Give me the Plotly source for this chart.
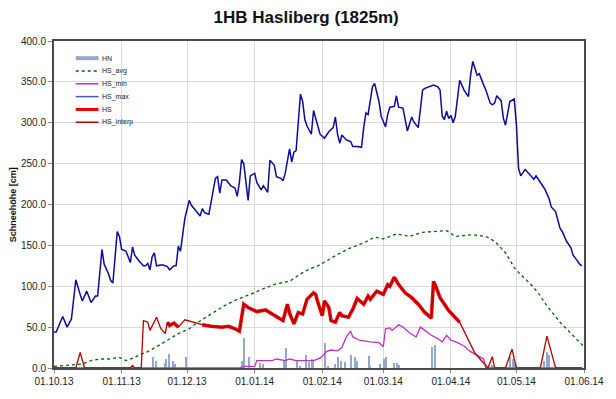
import pandas as pd
import plotly.graph_objects as go

SEASON_START = "2013-10-01"

# HS_max: day offset since 2013-10-01, value [cm]
hs_max_day = [0, 1, 4, 6, 8, 10, 12, 13, 15, 17, 19, 20, 22, 23, 25, 26, 27, 29, 30, 31,
              33, 35, 36, 37, 39, 41, 42, 43, 44, 45, 46, 47, 49, 50, 52, 53, 55, 56, 57, 58,
              60, 62, 63, 65, 67, 68, 69, 71, 74, 75, 76, 77, 79, 81, 83, 84, 85, 86, 87, 89,
              90, 92, 93, 95, 96, 98, 99, 101, 102, 104, 105, 106, 108, 109, 110, 111, 112, 113, 114, 115,
              116, 118, 119, 121, 122, 124, 126, 128, 129, 130, 131, 132, 134, 136, 137, 139, 141, 142, 143, 144,
              146, 147, 149, 150, 152, 153, 154, 156, 157, 158, 160, 161, 162, 164, 165, 167, 169, 170, 172, 174,
              176, 177, 178, 179, 180, 181, 182, 183, 184, 185, 186, 188, 190, 191, 192, 194, 195, 197, 198, 200,
              201, 202, 203, 205, 206, 207, 209, 211, 212, 213, 214, 216, 218, 220, 221, 223, 225, 227, 228, 230,
              232, 233, 235, 237, 238, 240, 241, 242]
hs_max = [44, 44, 63, 50, 60, 108, 90, 82, 94, 80, 88, 88, 145, 127, 115, 107, 104, 167, 161, 145,
          143, 129, 148, 138, 131, 125, 125, 128, 120, 136, 141, 125, 126, 126, 124, 120, 125, 125, 149, 143,
          183, 205, 199, 192, 186, 195, 190, 188, 232, 234, 214, 230, 230, 223, 220, 210, 227, 255, 250, 205,
          235, 238, 227, 218, 223, 215, 254, 248, 234, 232, 229, 238, 268, 252, 264, 266, 302, 335, 326, 304,
          296, 286, 315, 297, 286, 281, 289, 294, 307, 286, 275, 285, 279, 277, 271, 271, 270, 294, 312, 310,
          344, 348, 326, 308, 295, 310, 319, 320, 333, 319, 318, 304, 290, 307, 301, 294, 340, 342, 344, 346,
          344, 340, 308, 304, 314, 305, 309, 300, 308, 334, 352, 340, 332, 358, 375, 358, 360, 346, 340, 324,
          322, 324, 333, 327, 306, 297, 326, 329, 298, 244, 235, 243, 237, 231, 235, 227, 219, 207, 197, 191,
          171, 167, 155, 147, 138, 131, 127, 125]

# HS_avg
hs_avg_day = [0, 9, 13, 17, 21, 25, 30, 33, 37, 40, 43, 47, 52, 57, 62, 66, 72, 78, 84, 90,
              96, 102, 108, 113, 117, 121, 125, 130, 136, 142, 147, 151, 157, 163, 169, 175, 180, 184, 192, 198,
              202, 207, 211, 214, 218, 222, 226, 232, 237, 243]
hs_avg = [2, 4, 5, 9, 11, 11, 13, 9, 13, 17, 20, 26, 34, 42, 48, 56, 66, 76, 84, 90,
          97, 103, 106, 115, 121, 125, 131, 139, 147, 153, 160, 158, 164, 161, 166, 167, 168, 161, 163, 161,
          155, 141, 123, 114, 104, 92, 76, 56, 42, 26]

# HS_min
hs_min_day = [0, 85, 87, 92, 93, 100, 102, 106, 108, 111, 119, 122, 125, 127, 130, 132, 134, 136, 137, 140,
              145, 149, 151, 152, 154, 155, 158, 160, 163, 166, 168, 170, 173, 176, 178, 180, 182, 185, 188, 191,
              194, 197, 198, 242]
hs_min = [0, 0, 2, 2, 9, 9, 11, 9, 11, 9, 9, 12, 20, 22, 21, 25, 38, 45, 38, 34,
          32, 31, 26, 48, 49, 46, 53, 50, 43, 38, 50, 46, 40, 36, 32, 40, 34, 31, 27, 20,
          16, 11, 0, 0]

# HS (measured, thick) - None marks a gap
hs_day = [52, 53, 55, 57, 58, 68, 72, 77, 80, 83, 85, 87, 89, 93, 97, 100, 105, 107, 108, 110,
          112, 114, 116, 119, 120, 121, 123, 124, 126, 127, 129, 131, 132, 135, 137, 139, 142, 144, 145, 148,
          151, 153, 154, 156, 158, 161, 164, 167, 170, 173, 174, 175, 177, 181, 186]
hs = [56, 52, 55, 50, None, 53, 51, 50, 51, 48, 45, 78, 74, 69, 71, 66, 58, 78, 67, 54,
      68, 66, 84, 92, 90, 80, 64, 82, 74, 58, 56, 68, 64, 62, 72, 85, 78, 88, 84, 94,
      90, 102, 100, 111, 102, 92, 86, 78, 68, 61, 106, 100, 86, 70, 56]

# HS_interp (thin, continuous)
hs_interp_day = [0, 10, 12, 14, 35, 36, 37, 40, 41, 43, 44, 47, 49, 51, 52, 53, 55, 57, 60, 68,
                 72, 77, 80, 83, 85, 87, 89, 93, 97, 100, 105, 107, 108, 110, 112, 114, 116, 119, 120, 121,
                 123, 124, 126, 127, 129, 131, 132, 135, 137, 139, 142, 144, 145, 148, 151, 153, 154, 156, 158, 161,
                 164, 167, 170, 173, 174, 175, 177, 181, 186, 193, 198, 199, 201, 202, 207, 210, 212, 223, 226, 230,
                 242]
hs_interp = [0, 0, 19, 0, 0, 3, 0, 0, 58, 56, 46, 62, 48, 42, 56, 52, 55, 50, 59, 53,
             51, 50, 51, 48, 45, 78, 74, 69, 71, 66, 58, 78, 67, 54, 68, 66, 84, 92, 90, 80,
             64, 82, 74, 58, 56, 68, 64, 62, 72, 85, 78, 88, 84, 94, 90, 102, 100, 111, 102, 92,
             86, 78, 68, 61, 106, 100, 86, 70, 56, 18, 2, 0, 14, 0, 0, 23, 0, 0, 39, 0,
             0]

# HN (new snow) bars
hn_day = [45.5, 46.8, 50.8, 51.5, 52.6, 54.4, 55.3, 60.6, 86.4, 87.3, 89.3, 94.6, 96, 105.5, 106.2, 111.5, 113, 115.7, 117, 118.2,
          119, 124.3, 125.5, 128.9, 130.4, 131.5, 133.5, 136.1, 137.9, 139, 144.3, 145, 149.7, 151.2, 152.3, 156, 157.5, 158.2, 173.5, 174.5,
          200.7, 209, 210.4, 211.3, 224.8, 225.9, 226.8]
hn = [14, 9, 6, 11, 17, 8, 5, 14, 8, 37, 14, 6, 5, 10, 24, 8, 3, 16, 7, 11,
      8, 30, 3, 5, 13, 8, 7, 16, 14, 9, 15, 3, 5, 11, 13, 6, 6, 4, 26, 28,
      4, 13, 11, 6, 9, 20, 16]

legend_names = ["HN", "HS_avg", "HS_min", "HS_max", "HS", "HS_interp"]

base = pd.Timestamp(SEASON_START)


def to_dates(days):
    return [base + pd.Timedelta(days=float(d)) for d in days]


# style per series: (color, line width, dash)
styles = {
    "HN": ("#92A8CC", 4, "solid"),
    "HS_avg": ("#006400", 1.3, "dot"),
    "HS_min": ("#C030C0", 1.3, "solid"),
    "HS_max": ("#0A0A9C", 1.5, "solid"),
    "HS": ("#EE0000", 3.5, "solid"),
    "HS_interp": ("#B00000", 1.3, "solid"),
}
legend_sample_color = {"HS_max": "#5050D8"}

fig = go.Figure()
fig.add_trace(go.Bar(x=to_dates(hn_day), y=hn, name="HN", showlegend=False,
                     marker=dict(color=styles["HN"][0], line=dict(width=0)),
                     width=0.55 * 86400000))
series = [("HS_avg", hs_avg_day, hs_avg), ("HS_min", hs_min_day, hs_min),
          ("HS_max", hs_max_day, hs_max), ("HS", hs_day, hs),
          ("HS_interp", hs_interp_day, hs_interp)]
for name, d, v in series:
    c, w, dash = styles[name]
    fig.add_trace(go.Scatter(x=to_dates(d), y=v, name=name, mode="lines", showlegend=False,
                             line=dict(color=c, width=w, dash=dash), connectgaps=False))

# compact legend (upper left, inside plot area)
shapes = []
annotations = []
leg_top = 0.9475
leg_step = 0.0392
for i, name in enumerate(legend_names):
    c, w, dash = styles[name]
    c = legend_sample_color.get(name, c)
    yy = leg_top - i * leg_step
    lw = 3 if name == "HS" else (1.5 if w < 3 else w)
    shapes.append(dict(type="line", xref="paper", yref="paper", x0=0.041, x1=0.084,
                       y0=yy, y1=yy, line=dict(color=c, width=lw, dash=dash)))
    annotations.append(dict(text=name, xref="paper", yref="paper", x=0.087, y=yy,
                            xanchor="left", yanchor="middle", showarrow=False,
                            font=dict(size=7, color="#222222")))

annotations.append(dict(text="<b>Schneehöhe [cm]</b>", textangle=-90,
                        xref="paper", yref="paper", x=-0.078, y=0.5,
                        xanchor="center", yanchor="middle", showarrow=False,
                        font=dict(size=9, color="#111111")))

tick_vals = pd.date_range("2013-10-01", "2014-06-01", freq="MS")

fig.update_layout(
    width=616, height=399,
    margin=dict(l=54, r=26, t=41, b=22),
    paper_bgcolor="white", plot_bgcolor="white",
    font=dict(family="Liberation Sans, Arial, sans-serif", color="#222222"),
    title=dict(text="<b>1HB Hasliberg (1825m)</b>", x=0.497, xanchor="center",
               y=0.957, yanchor="middle", font=dict(size=17, color="#111111")),
    showlegend=False,
    bargap=0,
    xaxis=dict(type="date", range=["2013-10-01", "2014-06-01"],
               tickvals=tick_vals, tickformat="%d.%m.%y",
               showgrid=True, gridcolor="#DADADA", gridwidth=1,
               showline=True, linecolor="#4A4A4A", linewidth=2, mirror=True,
               ticks="outside", ticklen=3, tickcolor="#888888",
               tickfont=dict(size=10, color="#222222"), zeroline=False),
    yaxis=dict(range=[0, 400], dtick=50, tickformat=".1f",
               showgrid=True, gridcolor="#DADADA", gridwidth=1,
               showline=True, linecolor="#4A4A4A", linewidth=2, mirror=True,
               ticks="outside", ticklen=4, tickcolor="#888888",
               tickfont=dict(size=10, color="#222222"), zeroline=False),
    shapes=shapes,
    annotations=annotations,
)

fig.write_html("out.html", config={"displayModeBar": False},
               post_script="document.body.style.margin='0px';")
